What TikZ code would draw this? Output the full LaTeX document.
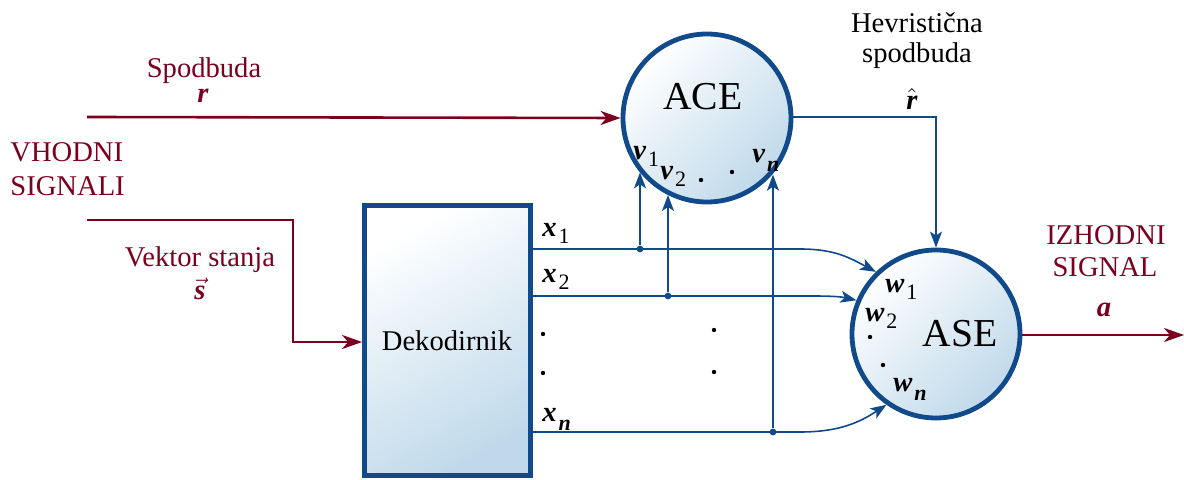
\documentclass[tikz,border=0pt]{standalone}
\usepackage{fontspec}
\setmainfont{Liberation Serif}
\usetikzlibrary{positioning, shapes, arrows.meta}
\definecolor{dblue}{RGB}{16,74,138}
\definecolor{dred}{RGB}{122,0,30}
\definecolor{lblue}{RGB}{192,217,234}
\newcommand{\sv}[2]{{\bfseries\itshape #1}\kern1pt\raisebox{-3.5pt}{\fontsize{11}{12}\selectfont #2}}
\newcommand{\svn}[1]{{\bfseries\itshape #1}\kern1pt\raisebox{-4.5pt}{\fontsize{11}{12}\selectfont\bfseries\itshape n}}
\tikzset{
  unit/.style={circle, draw=dblue, line width=2.4pt, minimum size=84pt, inner sep=0pt,
    top color=white, bottom color=lblue, shading angle=45},
  dekbox/.style={rectangle, draw=dblue, line width=2.4pt, inner sep=0pt,
    top color=white, bottom color=lblue, shading angle=30},
  sig/.style={dblue, line width=0.8pt},
  sigarr/.style={sig, -{Stealth[length=8pt,width=6pt,inset=2pt]}},
  inarr/.style={dred, line width=1.3pt, -{Stealth[length=10pt,width=7pt,inset=3pt]}},
  txt/.style={inner sep=0pt, font=\fontsize{14.3}{16}\selectfont},
  big/.style={inner sep=0pt, font=\fontsize{19.8}{22}\selectfont},
  jdot/.style={circle, fill=dblue, inner sep=0pt, minimum size=3.4pt},
  pdot/.style={circle, fill=black, inner sep=0pt, minimum size=2.2pt}
}
\begin{document}
\begin{tikzpicture}[x=0.5pt,y=-0.5pt]
\useasboundingbox (0,0) rectangle (1184,480);
% blocks
\node[unit] (ACE) at (707,118) {};
\node[unit] (ASE) at (936,334) {};
\node[dekbox, minimum width=83pt, minimum height=135pt] (Dek) at (447.5,340.5) {};
\node[big, anchor=base] (acet) at (703,110) {ACE};
\node[big, anchor=base] (aset) at (960,347) {ASE};
\node[txt] (dekt) at (447,341) {Dekodirnik};
% inputs
\coordinate (rin) at (87,117);
\coordinate (sin) at (87,220);
\coordinate (sk) at (293,342);
\draw[inarr] (rin) -- (ACE.west);
\draw[inarr] (sin) -| (sk) -- (sk -| Dek.west);
\node[txt, anchor=base, text=dred] (rt) at (204,78) {Spodbuda};
\node[txt, anchor=base, text=dred] (rv) at (203,103) {\bfseries\itshape r};
\node[txt, anchor=base west, text=dred] (in1) at (10,162) {VHODNI};
\node[txt, anchor=base west, text=dred] (in2) at (10,196) {SIGNALI};
\node[txt, anchor=base, text=dred] (st) at (200,267) {Vektor stanja};
\node[txt, anchor=base, text=dred] (sv) at (200,300) {$\vec{\mbox{\bfseries\itshape s}}$};
% heuristic reinforcement
\coordinate (hk) at (936,117);
\draw[sigarr] (ACE.east |- hk) -- (hk) -- (ASE.north);
\node[txt, anchor=base] (h1) at (917,33) {Hevristična};
\node[txt, anchor=base] (h2) at (917,63) {spodbuda};
\node[txt, anchor=base] (hr) at (912,110) {$\hat{\mbox{\bfseries\itshape r}}$};
% output
\coordinate (aout) at (1184,335);
\draw[inarr] (ASE.east |- aout) -- (aout);
\node[txt, anchor=base, text=dred] (o1t) at (1106,245) {IZHODNI};
\node[txt, anchor=base, text=dred] (o2t) at (1105,277) {SIGNAL};
\node[txt, anchor=base, text=dred] (ov) at (1104,317) {\bfseries\itshape a};
% decoder outputs
\coordinate (o1) at (Dek.east |- 0,249);
\coordinate (o2) at (Dek.east |- 0,296);
\coordinate (on) at (Dek.east |- 0,432);
\node[jdot] (j1) at (640,249) {};
\node[jdot] (j2) at (668,296) {};
\node[jdot] (jn) at (773,432) {};
\draw[sigarr] (o1) -- (800,249) .. controls (835,249) and (850,258) .. (ASE.134);
\draw[sigarr] (o2) -- (812,296) .. controls (835,296) and (842,297) .. (ASE.157);
\draw[sigarr] (on) -- (800,432) .. controls (840,432) and (860,422) .. (ASE.235);
\draw[sigarr] (j1) -- (j1 |- ACE.219.2);
\draw[sigarr] (j2) -- (j2 |- ACE.243.2);
\draw[sigarr] (jn) -- (jn |- ACE.319.7);
\node[txt, anchor=base west] (x1) at (542,237) {\sv{x}{1}};
\node[txt, anchor=base west] (x2) at (542,283) {\sv{x}{2}};
\node[txt, anchor=base west] (xn) at (542,422) {\svn{x}};
% weights
\node[txt, anchor=base west] (v1) at (633,160) {\sv{v}{1}};
\node[txt, anchor=base west] (v2) at (660,180) {\sv{v}{2}};
\node[txt, anchor=base west] (vn) at (752,163) {\svn{v}};
\node[txt, anchor=base west] (w1) at (885,293) {\sv{w}{1}};
\node[txt, anchor=base west] (w2) at (865,322) {\sv{w}{2}};
\node[txt, anchor=base west] (wn) at (893,392) {\svn{w}};
% dots
\node[pdot] (d1) at (543,334) {};
\node[pdot] (d2) at (543,373) {};
\node[pdot] (d3) at (714,330) {};
\node[pdot] (d4) at (714,372) {};
\node[pdot] (d5) at (701,180) {};
\node[pdot] (d6) at (732,172) {};
\node[pdot] (d7) at (870,337) {};
\node[pdot] (d8) at (883,365) {};
\end{tikzpicture}
\end{document}
